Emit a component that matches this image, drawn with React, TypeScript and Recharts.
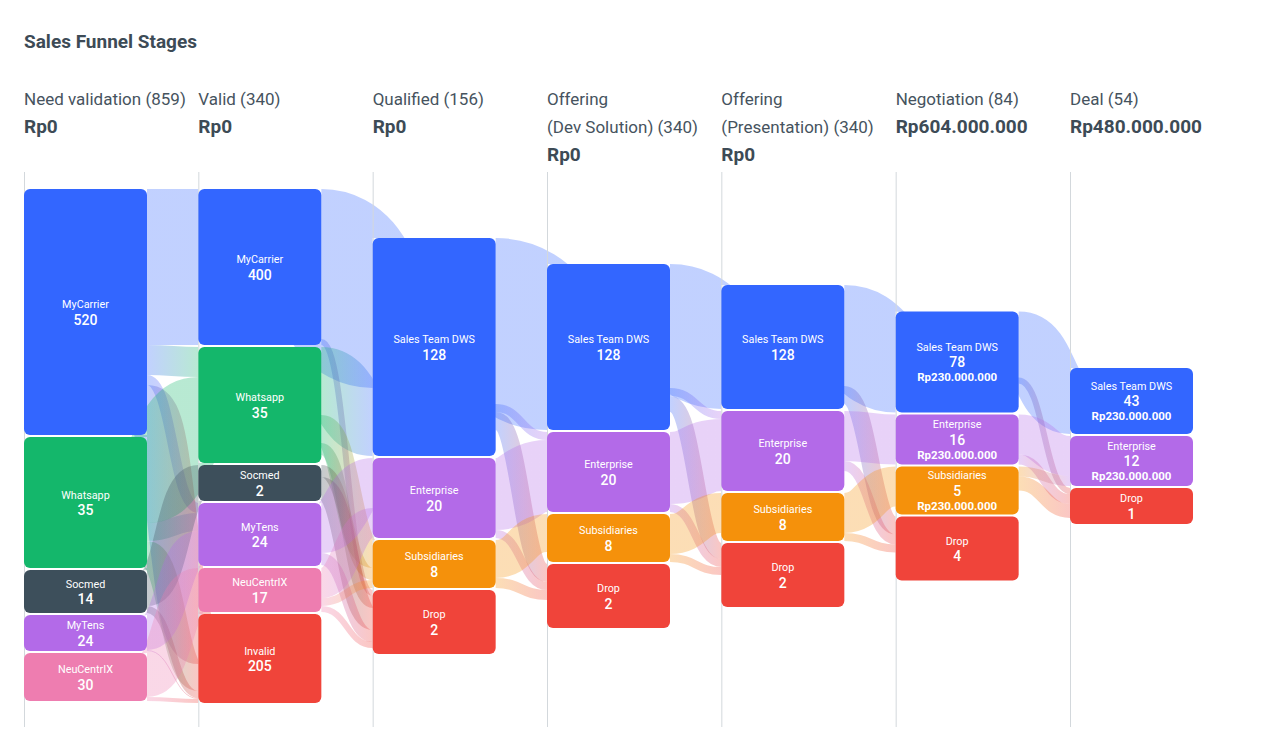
import React from 'react';
import { Sankey } from 'recharts';

// ---------- Stage headers ----------
const stageNames = [
  'Need validation',
  'Valid',
  'Qualified',
  'Offering (Dev Solution)',
  'Offering (Presentation)',
  'Negotiation',
  'Deal',
];
const stageCounts = [859, 340, 156, 340, 340, 84, 54];
const stageAmounts = [0, 0, 0, 0, 0, 604000000, 480000000];

// ---------- Nodes per stage (label value + flow volume) ----------
const needValidationNames = ['MyCarrier', 'Whatsapp', 'Socmed', 'MyTens', 'NeuCentrIX'];
const needValidationValues = [520, 35, 14, 24, 30];
const needValidationVolumes = [246, 131, 43, 36, 48];

const validNames = ['MyCarrier', 'Whatsapp', 'Socmed', 'MyTens', 'NeuCentrIX', 'Invalid'];
const validValues = [400, 35, 2, 24, 17, 205];
const validVolumes = [156, 116, 36, 63, 44, 89];

const outcomeNames = ['Sales Team DWS', 'Enterprise', 'Subsidiaries', 'Drop'];
const qualifiedValues = [128, 20, 8, 2];
const qualifiedVolumes = [218, 80, 48, 64];
const devSolutionValues = [128, 20, 8, 2];
const devSolutionVolumes = [166, 80, 48, 64];
const presentationValues = [128, 20, 8, 2];
const presentationVolumes = [124, 80, 48, 64];
const negotiationValues = [78, 16, 5, 4];
const negotiationAmounts = [230000000, 230000000, 230000000, null];
const negotiationVolumes = [101, 50, 48, 64];

const dealNames = ['Sales Team DWS', 'Enterprise', 'Drop'];
const dealValues = [43, 12, 1];
const dealAmounts = [230000000, 230000000, null];
const dealVolumes = [66, 50, 36];

// ---------- Flows between consecutive stages [from, to, volume] ----------
type Flow = [string, string, number];
const flowsToValid: Flow[] = [
  ['MyCarrier', 'MyCarrier', 156],
  ['MyCarrier', 'Whatsapp', 30],
  ['MyCarrier', 'MyTens', 10],
  ['MyCarrier', 'Invalid', 50],
  ['Whatsapp', 'Whatsapp', 86],
  ['Whatsapp', 'MyTens', 18],
  ['Whatsapp', 'Invalid', 27],
  ['Socmed', 'Socmed', 36],
  ['Socmed', 'Invalid', 7],
  ['MyTens', 'MyTens', 35],
  ['MyTens', 'Invalid', 1],
  ['NeuCentrIX', 'NeuCentrIX', 44],
  ['NeuCentrIX', 'Invalid', 4],
];
const flowsToQualified: Flow[] = [
  ['MyCarrier', 'Sales Team DWS', 150],
  ['MyCarrier', 'Drop', 6],
  ['Whatsapp', 'Sales Team DWS', 68],
  ['Whatsapp', 'Subsidiaries', 28],
  ['Whatsapp', 'Drop', 12],
  ['Socmed', 'Subsidiaries', 12],
  ['Socmed', 'Drop', 22],
  ['MyTens', 'Enterprise', 50],
  ['MyTens', 'Drop', 12],
  ['NeuCentrIX', 'Enterprise', 30],
  ['NeuCentrIX', 'Subsidiaries', 8],
  ['NeuCentrIX', 'Drop', 6],
];
const flowsToDevSolution: Flow[] = [
  ['Sales Team DWS', 'Sales Team DWS', 166],
  ['Sales Team DWS', 'Enterprise', 8],
  ['Sales Team DWS', 'Drop', 18],
  ['Enterprise', 'Enterprise', 72],
  ['Enterprise', 'Drop', 8],
  ['Subsidiaries', 'Subsidiaries', 38],
  ['Subsidiaries', 'Drop', 10],
];
const flowsToPresentation: Flow[] = [
  ['Sales Team DWS', 'Sales Team DWS', 124],
  ['Sales Team DWS', 'Enterprise', 8],
  ['Sales Team DWS', 'Drop', 16],
  ['Enterprise', 'Enterprise', 72],
  ['Enterprise', 'Drop', 8],
  ['Subsidiaries', 'Subsidiaries', 40],
  ['Subsidiaries', 'Drop', 8],
];
const flowsToNegotiation: Flow[] = [
  ['Sales Team DWS', 'Sales Team DWS', 101],
  ['Sales Team DWS', 'Drop', 18],
  ['Enterprise', 'Enterprise', 50],
  ['Enterprise', 'Drop', 10],
  ['Subsidiaries', 'Subsidiaries', 40],
  ['Subsidiaries', 'Drop', 8],
];
const flowsToDeal: Flow[] = [
  ['Sales Team DWS', 'Sales Team DWS', 66],
  ['Sales Team DWS', 'Drop', 6],
  ['Enterprise', 'Enterprise', 40],
  ['Enterprise', 'Drop', 10],
  ['Subsidiaries', 'Enterprise', 10],
  ['Subsidiaries', 'Drop', 14],
];

// ---------- Styles ----------
const colorByName: Record<string, string> = {
  MyCarrier: '#3366FF',
  'Sales Team DWS': '#3366FF',
  Whatsapp: '#14B76B',
  Socmed: '#3D4F5B',
  MyTens: '#B36AE8',
  Enterprise: '#B36AE8',
  NeuCentrIX: '#EE7DB0',
  Subsidiaries: '#F5910B',
  Invalid: '#F0443A',
  Drop: '#F0443A',
};
const TEXT_DARK = '#3D4B56';
const GRID = '#D3D8DC';
const FONT = 'Roboto, "Noto Sans", sans-serif';

const CHART_W = 1264;
const CHART_H = 555;
const MARGIN = { top: 17, right: 79, bottom: 24, left: 16 };
const NODE_W = 123;
const PAD = 2;
const COL_STEP = (CHART_W - MARGIN.left - MARGIN.right - NODE_W) / 6;

type Column = { names: string[]; values: number[]; volumes: number[]; amounts?: (number | null)[] };
const columns: Column[] = [
  { names: needValidationNames, values: needValidationValues, volumes: needValidationVolumes },
  { names: validNames, values: validValues, volumes: validVolumes },
  { names: outcomeNames, values: qualifiedValues, volumes: qualifiedVolumes },
  { names: outcomeNames, values: devSolutionValues, volumes: devSolutionVolumes },
  { names: outcomeNames, values: presentationValues, volumes: presentationVolumes },
  { names: outcomeNames, values: negotiationValues, volumes: negotiationVolumes, amounts: negotiationAmounts },
  { names: dealNames, values: dealValues, volumes: dealVolumes, amounts: dealAmounts },
];
const transitions: Flow[][] = [
  flowsToValid,
  flowsToQualified,
  flowsToDevSolution,
  flowsToPresentation,
  flowsToNegotiation,
  flowsToDeal,
];

const formatRp = (n: number) => 'Rp' + String(n).replace(/\B(?=(\d{3})+(?!\d))/g, '.');

// Build the sankey graph; invisible helper nodes/links centre each stage vertically
function buildData() {
  const nodes: any[] = [];
  const links: any[] = [];
  const idx: Record<string, number>[] = [];
  const totals = columns.map(
    (c) => c.volumes.reduce((a, b) => a + b, 0) + (c.volumes.length - 1) * PAD
  );
  const maxTotal = Math.max(...totals);
  const spacer = totals.map((t) => Math.max(0, (maxTotal - t) / 2 - PAD));
  const spacerIdx: (number | null)[] = [];
  columns.forEach((c, k) => {
    const map: Record<string, number> = {};
    if (spacer[k] > 0) {
      spacerIdx[k] = nodes.length;
      nodes.push({ name: '', hidden: true, gridline: true });
    } else spacerIdx[k] = null;
    c.names.forEach((n, i) => {
      map[n] = nodes.length;
      nodes.push({
        name: n,
        label: c.values[i],
        amount: c.amounts ? c.amounts[i] : null,
        color: colorByName[n],
        gridline: i === 0 && spacerIdx[k] === null,
      });
    });
    idx.push(map);
  });
  transitions.forEach((flows, k) => {
    const inSum: Record<string, number> = {};
    const sources = new Set(flows.map((f) => f[0]));
    flows.forEach(([s, t, v]) => {
      links.push({
        source: idx[k][s],
        target: idx[k + 1][t],
        value: v,
        c1: colorByName[s],
        c2: colorByName[t],
      });
      inSum[t] = (inSum[t] || 0) + v;
    });
    const deadEnds = columns[k].names.filter((n) => !sources.has(n));
    const sink = deadEnds.length ? idx[k][deadEnds[deadEnds.length - 1]] : null;
    const nextSpacer = spacerIdx[k + 1];
    if (nextSpacer != null) {
      const prev = spacerIdx[k];
      let carried = 0;
      if (prev != null) {
        carried = Math.min(spacer[k], spacer[k + 1]);
        links.push({ source: prev, target: nextSpacer, value: carried, hidden: true });
      }
      const rest = spacer[k + 1] - carried;
      if (rest > 0 && sink != null) links.push({ source: sink, target: nextSpacer, value: rest, hidden: true });
    }
    if (sink != null) {
      columns[k + 1].names.forEach((n, i) => {
        const gap = columns[k + 1].volumes[i] - (inSum[n] || 0);
        if (gap > 0) links.push({ source: sink, target: idx[k + 1][n], value: gap, hidden: true });
      });
    }
  });
  return { nodes, links };
}

const sankeyData = buildData();

function NodeShape(props: any) {
  const { x, y, width, height, payload } = props;
  const grid = payload.gridline ? (
    <line x1={x + 0.5} x2={x + 0.5} y1={0} y2={CHART_H} stroke={GRID} strokeWidth={1} />
  ) : null;
  if (payload.hidden) return <g>{grid}</g>;
  const cx = x + width / 2;
  const cy = y + height / 2;
  const hasAmount = payload.amount != null;
  const lines: { text: string; size: number; weight: number }[] = [
    { text: payload.name, size: 10.8, weight: 400 },
    { text: String(payload.label), size: 14, weight: 500 },
  ];
  if (hasAmount) lines.push({ text: formatRp(payload.amount), size: 11.5, weight: 700 });
  const step = 15;
  const start = cy - ((lines.length - 1) * step) / 2;
  return (
    <g>
      {grid}
      <rect x={x} y={y} width={width} height={height} rx={6} ry={6} fill={payload.color} />
      {lines.map((l, i) => (
        <text
          key={i}
          x={cx}
          y={start + i * step}
          textAnchor="middle"
          dominantBaseline="central"
          fill="#FFFFFF"
          fontSize={l.size}
          fontWeight={l.weight}
          fontFamily={FONT}
        >
          {l.text}
        </text>
      ))}
    </g>
  );
}

function LinkShape(props: any) {
  const { sourceX, targetX, sourceY, targetY, sourceControlX, targetControlX, linkWidth, index, payload } = props;
  if (!payload || payload.hidden || !(linkWidth > 0)) return <g />;
  const id = `link-grad-${index}`;
  return (
    <g>
      <defs>
        <linearGradient id={id} gradientUnits="userSpaceOnUse" x1={sourceX} y1={0} x2={targetX} y2={0}>
          <stop offset="0%" stopColor={payload.c1} />
          <stop offset="100%" stopColor={payload.c2} />
        </linearGradient>
      </defs>
      <path
        d={`M${sourceX},${sourceY} C${sourceControlX},${sourceY} ${targetControlX},${targetY} ${targetX},${targetY}`}
        fill="none"
        stroke={`url(#${id})`}
        strokeWidth={linkWidth}
        strokeOpacity={0.3}
      />
    </g>
  );
}

export default function App() {
  return (
    <div style={{ position: 'relative', width: CHART_W, height: 735, fontFamily: FONT, color: TEXT_DARK }}>
      <div
        style={{
          position: 'absolute',
          left: 16,
          top: 22,
          fontSize: 19,
          lineHeight: '24px',
          fontWeight: 700,
          color: TEXT_DARK,
          whiteSpace: 'nowrap',
        }}
      >
        Sales Funnel Stages
      </div>
      {stageNames.map((name, k) => {
        const p = name.indexOf(' (');
        const lines =
          p > 0
            ? [name.slice(0, p), `${name.slice(p + 1)} (${stageCounts[k]})`]
            : [`${name} (${stageCounts[k]})`];
        return (
          <div
            key={k}
            style={{ position: 'absolute', left: MARGIN.left + k * COL_STEP, top: 77, whiteSpace: 'nowrap' }}
          >
            {lines.map((l, i) => (
              <div key={i} style={{ fontSize: 17, lineHeight: '28px', color: '#46535E' }}>
                {l}
              </div>
            ))}
            <div style={{ fontSize: 19, lineHeight: '28px', fontWeight: 700, color: TEXT_DARK }}>
              {formatRp(stageAmounts[k])}
            </div>
          </div>
        );
      })}
      <div style={{ position: 'absolute', left: 0, top: 164 }}>
        <Sankey
          width={CHART_W}
          height={CHART_H}
          data={sankeyData}
          node={NodeShape}
          link={LinkShape}
          nodeWidth={NODE_W}
          nodePadding={PAD}
          iterations={0}
          sort={false}
          linkCurvature={0.5}
          margin={MARGIN}
        />
      </div>
    </div>
  );
}
